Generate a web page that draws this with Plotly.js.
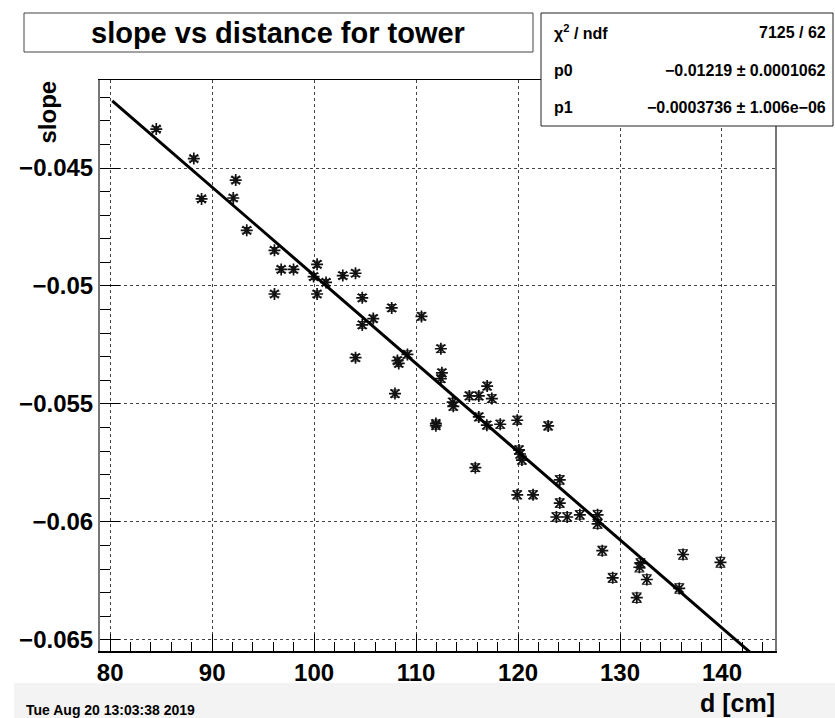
<!DOCTYPE html>
<html>
<head>
<meta charset="utf-8">
<script src="https://cdn.plot.ly/plotly-3.0.1.min.js"></script>
<style>html,body{margin:0;padding:0;background:#fff;}#chart{width:835px;height:718px;}</style>
</head>
<body>
<div id="chart"></div>
<script>
// ---- data ----
const distance = [84.52, 88.20, 88.96, 92.31, 92.07, 93.39, 96.11, 96.77, 97.98, 96.11,
  100.29, 99.95, 100.29, 101.17, 102.81, 104.06, 104.72, 104.72, 105.80, 107.61,
  104.06, 108.17, 108.30, 107.93, 109.15, 110.53, 112.43, 112.53, 112.43, 111.94,
  111.94, 113.59, 113.65, 115.22, 116.15, 116.97, 117.43, 116.15, 116.94, 118.25,
  119.92, 122.95, 115.81, 120.09, 120.20, 120.38, 124.09, 119.92, 121.47, 124.09,
  123.76, 124.82, 126.06, 127.80, 127.80, 128.26, 129.28, 131.64, 132.01, 131.90,
  132.63, 135.81, 136.18, 139.85];
const slope = [-0.04335, -0.04460, -0.04631, -0.04551, -0.04627, -0.04764, -0.04849, -0.04930, -0.04930, -0.05034,
  -0.04908, -0.04960, -0.05034, -0.04985, -0.04956, -0.04946, -0.05050, -0.05165, -0.05138, -0.05093,
  -0.05304, -0.05316, -0.05328, -0.05456, -0.05290, -0.05129, -0.05266, -0.05368, -0.05393, -0.05583,
  -0.05592, -0.05492, -0.05510, -0.05466, -0.05466, -0.05424, -0.05477, -0.05555, -0.05590, -0.05586,
  -0.05569, -0.05593, -0.05770, -0.05695, -0.05712, -0.05738, -0.05822, -0.05885, -0.05885, -0.05920,
  -0.05979, -0.05979, -0.05970, -0.05970, -0.06008, -0.06122, -0.06237, -0.06321, -0.06176, -0.06192,
  -0.06244, -0.06282, -0.06138, -0.06171];
const slopeErr = [0.00010, 0.00011, 0.00011, 0.00012, 0.00012, 0.00012, 0.00012, 0.00012, 0.00012, 0.00012,
  0.00013, 0.00013, 0.00013, 0.00013, 0.00013, 0.00013, 0.00014, 0.00014, 0.00014, 0.00014,
  0.00014, 0.00014, 0.00014, 0.00015, 0.00015, 0.00015, 0.00015, 0.00015, 0.00015, 0.00015,
  0.00015, 0.00016, 0.00016, 0.00016, 0.00016, 0.00016, 0.00016, 0.00016, 0.00016, 0.00017,
  0.00017, 0.00017, 0.00016, 0.00017, 0.00017, 0.00017, 0.00018, 0.00017, 0.00017, 0.00018,
  0.00018, 0.00018, 0.00018, 0.00019, 0.00019, 0.00019, 0.00019, 0.00020, 0.00020, 0.00020,
  0.00020, 0.00020, 0.00020, 0.00021];

// fit parameters (pol1) and the range the fit function is drawn over
const fitP0 = -0.01219;
const fitP1 = -0.0003736;
const fitRange = [80.2, 143.5];
const statLabels = ['χ<sup>2</sup> / ndf', 'p0', 'p1'];
const statValues = ['7125 / 62', '−0.01219 ± 0.0001062', '−0.0003736 ± 1.006e−06'];

const xTickVals = [80, 90, 100, 110, 120, 130, 140];
const yTickVals = [-0.065, -0.06, -0.055, -0.05, -0.045];
const yTickText = ['−0.065', '−0.06', '−0.055', '−0.05', '−0.045'];

const chartTitle = 'slope vs distance for tower';
const xTitle = 'd [cm]';
const yTitle = 'slope';
const dateStamp = 'Tue Aug 20 13:03:38 2019';

// ---- layout helpers (pixels -> paper) ----
const W = 835, H = 718;
const M = {l: 100, r: 60, t: 80, b: 67};
const PW = W - M.l - M.r, PH = H - M.t - M.b;
const px = v => (v - M.l) / PW;
const py = v => (H - M.b - v) / PH;

const FONT = '"Liberation Sans", Arial, Helvetica, sans-serif';
const NARROW = '"Liberation Sans Narrow", "Arial Narrow", "Liberation Sans", Arial, sans-serif';

const fitY = fitRange.map(x => fitP0 + fitP1 * x);

const traces = [
  {
    x: distance, y: slope, type: 'scatter', mode: 'markers',
    marker: {symbol: 'asterisk-open', size: 10, color: '#111', line: {color: '#111', width: 1.7}},
    error_y: {type: 'data', array: slopeErr, visible: true, color: '#111', thickness: 1, width: 5},
    cliponaxis: true, hoverinfo: 'skip'
  },
  {
    x: fitRange, y: fitY, type: 'scatter', mode: 'lines',
    line: {color: '#000', width: 3}, hoverinfo: 'skip'
  }
];

const annotations = [
  {text: chartTitle, xref: 'paper', yref: 'paper', x: px(278), y: py(33), xanchor: 'center', yanchor: 'middle',
   showarrow: false, font: {family: FONT, size: 29, weight: 'bold', color: '#000'}},
  {text: xTitle, xref: 'paper', yref: 'paper', x: px(776), y: py(703), xanchor: 'right', yanchor: 'middle',
   showarrow: false, borderpad: 0, font: {family: FONT, size: 25, weight: 'bold', color: '#000'}},
  {text: yTitle, xref: 'paper', yref: 'paper', x: px(47), y: py(79), xanchor: 'center', yanchor: 'top',
   textangle: -90, showarrow: false, font: {family: FONT, size: 24, weight: 'bold', color: '#000'}},
  {text: dateStamp, xref: 'paper', yref: 'paper', x: px(24), y: py(710), xanchor: 'left', yanchor: 'middle',
   showarrow: false, font: {family: FONT, size: 14, weight: 'bold', color: '#000'}}
];
const rowY = [32, 70, 108];
statLabels.forEach((t, i) => {
  annotations.push({text: t, xref: 'paper', yref: 'paper', x: px(552), y: py(rowY[i]), xanchor: 'left', yanchor: 'middle',
    showarrow: false, font: {family: NARROW, size: 16, weight: 'bold', color: '#000'}});
  annotations.push({text: statValues[i], xref: 'paper', yref: 'paper', x: px(828), y: py(rowY[i]), xanchor: 'right', yanchor: 'middle',
    showarrow: false, font: {family: NARROW, size: 16, weight: 'bold', color: '#000'}});
});

const shapes = [
  {type: 'rect', xref: 'paper', yref: 'paper', x0: px(14), x1: px(835), y0: py(683), y1: py(718),
   fillcolor: '#f3f3f3', line: {width: 0}, layer: 'below'},
  {type: 'rect', xref: 'paper', yref: 'paper', x0: px(24), x1: px(533), y0: py(52), y1: py(13),
   fillcolor: '#fff', line: {color: '#444', width: 1}, layer: 'above'},
  {type: 'rect', xref: 'paper', yref: 'paper', x0: px(541), x1: px(833), y0: py(126), y1: py(13),
   fillcolor: '#fff', line: {color: '#222', width: 1}, layer: 'above'}
];

const layout = {
  width: W, height: H,
  margin: M,
  paper_bgcolor: '#fff', plot_bgcolor: '#fff',
  showlegend: false,
  font: {family: FONT, color: '#000'},
  xaxis: {
    range: [79.0, 145.2], tickmode: 'array', tickvals: xTickVals,
    ticks: 'inside', ticklen: 17, tickwidth: 1, tickcolor: '#000',
    minor: {dtick: 2, tick0: 80, ticks: 'inside', ticklen: 9, tickcolor: '#000', showgrid: false},
    showgrid: true, gridcolor: '#444', griddash: 'dot', gridwidth: 1,
    showline: true, linecolor: '#000', linewidth: 1.5, mirror: true,
    zeroline: false,
    tickfont: {family: FONT, size: 24, weight: 'bold', color: '#000'}
  },
  yaxis: {
    range: [-0.06547, -0.04127], tickmode: 'array', tickvals: yTickVals, ticktext: yTickText,
    ticks: 'inside', ticklen: 20, tickwidth: 1, tickcolor: '#000',
    minor: {dtick: 0.001, tick0: -0.065, ticks: 'inside', ticklen: 10, tickcolor: '#000', showgrid: false},
    showgrid: true, gridcolor: '#444', griddash: 'dot', gridwidth: 1,
    showline: true, linecolor: '#777', linewidth: 2, mirror: true,
    zeroline: false,
    tickfont: {family: FONT, size: 24, weight: 'bold', color: '#000'}
  },
  annotations: annotations,
  shapes: shapes
};

Plotly.newPlot('chart', traces, layout, {staticPlot: true, displayModeBar: false});
</script>
</body>
</html>
